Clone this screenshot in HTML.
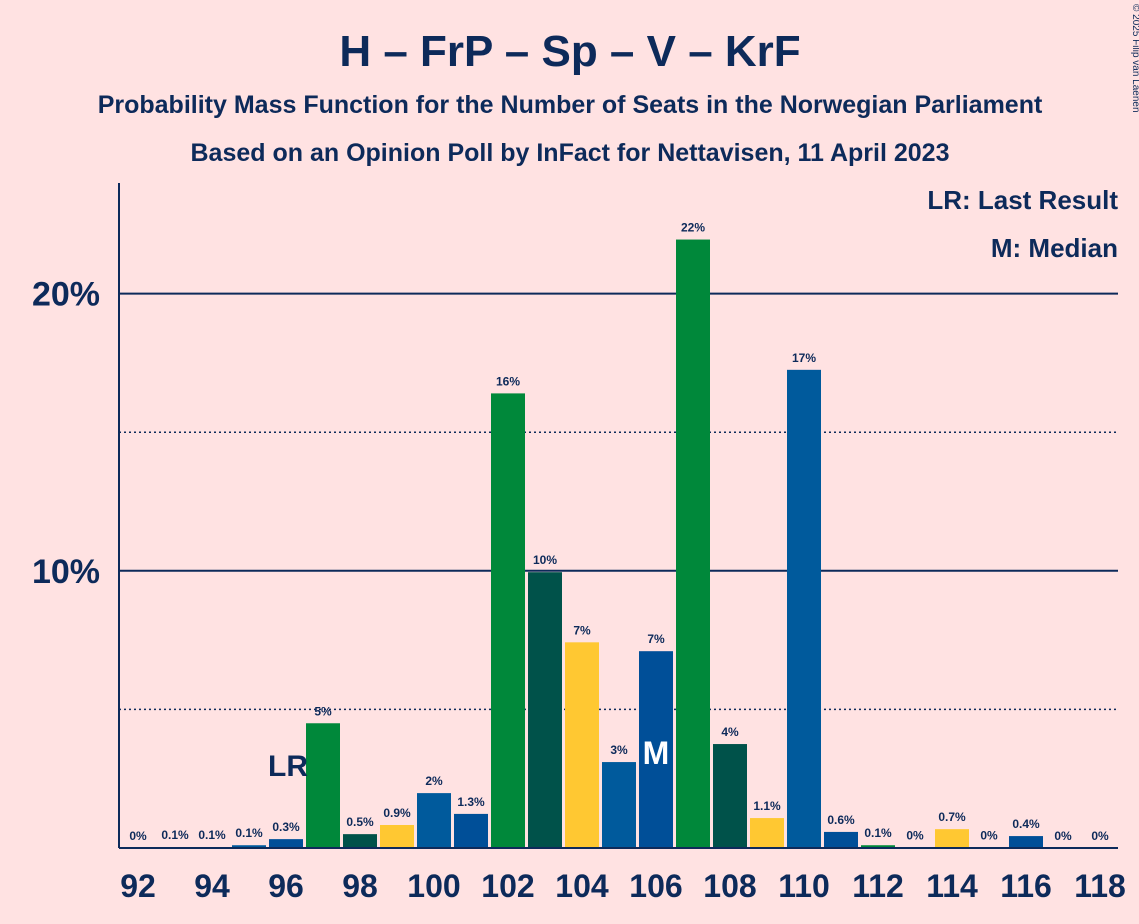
<!DOCTYPE html>
<html><head><meta charset="utf-8">
<style>
body{margin:0;background:#ffe2e2;}
svg{display:block;font-family:"Liberation Sans",sans-serif;}
</style></head>
<body>
<svg width="1139" height="924">
<rect width="1139" height="924" fill="#ffe2e2"/>
<text x="570" y="66" text-anchor="middle" font-size="44" font-weight="bold" fill="#0d2a5a">H – FrP – Sp – V – KrF</text>
<text x="570" y="113" text-anchor="middle" font-size="25" font-weight="bold" fill="#0d2a5a">Probability Mass Function for the Number of Seats in the Norwegian Parliament</text>
<text x="570" y="161" text-anchor="middle" font-size="25" font-weight="bold" fill="#0d2a5a">Based on an Opinion Poll by InFact for Nettavisen, 11 April 2023</text>
<text x="1133" y="4" font-size="10" fill="#0d2a5a" transform="rotate(90 1133 4)">© 2025 Filip van Laenen</text>
<text x="1118" y="209" text-anchor="end" font-size="26" font-weight="bold" fill="#0d2a5a">LR: Last Result</text>
<text x="1118" y="257" text-anchor="end" font-size="26" font-weight="bold" fill="#0d2a5a">M: Median</text>
<g id="grid"></g>
<g id="bars"></g>
<g id="labels"></g>
<line x1="119" y1="183" x2="119" y2="848" stroke="#0d2a5a" stroke-width="2"/>
<line x1="119" y1="848" x2="1118" y2="848" stroke="#0d2a5a" stroke-width="2"/>
</svg>
<script>
const seats=[92,93,94,95,96,97,98,99,100,101,102,103,104,105,106,107,108,109,110,111,112,113,114,115,116,117,118];
const probs=[0,0.03,0.03,0.1,0.32,4.5,0.5,0.83,1.98,1.23,16.4,9.95,7.42,3.1,7.1,21.95,3.75,1.08,17.25,0.58,0.1,0.02,0.68,0.02,0.43,0,0];
const printed=["0%","0.1%","0.1%","0.1%","0.3%","5%","0.5%","0.9%","2%","1.3%","16%","10%","7%","3%","7%","22%","4%","1.1%","17%","0.6%","0.1%","0%","0.7%","0%","0.4%","0%","0%"];
const yTicks=[10,20];
const yDotted=[5,15];
const lastResult=96, median=106;
const colors=["#00883a","#00524a","#ffc832","#005a9c","#004f98"];
const NS="http://www.w3.org/2000/svg";
const x=s=>138+(s-92)*37;
const y=v=>848-v*27.72;
function mk(t,a,p){const e=document.createElementNS(NS,t);for(const k in a)e.setAttribute(k,a[k]);p.appendChild(e);return e;}
const grid=document.getElementById('grid'),bars=document.getElementById('bars'),labels=document.getElementById('labels');
yDotted.forEach(v=>{const l=mk('line',{x1:119,x2:1118,y1:y(v),y2:y(v),stroke:'#0d2a5a','stroke-width':1.5,'stroke-dasharray':'2,3'},grid);

});
yTicks.forEach(v=>{const l=mk('line',{x1:119,x2:1118,y1:y(v),y2:y(v),stroke:'#0d2a5a','stroke-width':2},grid);


const t=mk('text',{x:100,y:y(v)+12,'text-anchor':'end','font-size':34,'font-weight':'bold',fill:'#0d2a5a'},labels);t.textContent=v+'%';

});
seats.forEach((s,i)=>{
 const v=probs[i];
 if(v>0){const r=mk('rect',{x:x(s)-17,y:y(v),width:34,height:848-y(v),fill:colors[(s-92)%5]},bars);
 
 }
 const t=mk('text',{x:x(s),y:y(v)-8,'text-anchor':'middle','font-size':12,'font-weight':'bold',fill:'#0d2a5a'},labels);t.textContent=printed[i];
 
 
 if(s%2===0){const xt=mk('text',{x:x(s),y:897,'text-anchor':'middle','font-size':32,'font-weight':'bold',fill:'#0d2a5a'},labels);xt.textContent=s;
 
 }
 if(s===lastResult){const t2=mk('text',{x:x(s)+2,y:776,'text-anchor':'middle','font-size':30,'font-weight':'bold',fill:'#0d2a5a'},labels);t2.textContent='LR';
 
 }
 if(s===median){const t3=mk('text',{x:x(s),y:764,'text-anchor':'middle','font-size':32,'font-weight':'bold',fill:'#ffffff'},labels);t3.textContent='M';
 
 }
});
</script>
</body></html>
